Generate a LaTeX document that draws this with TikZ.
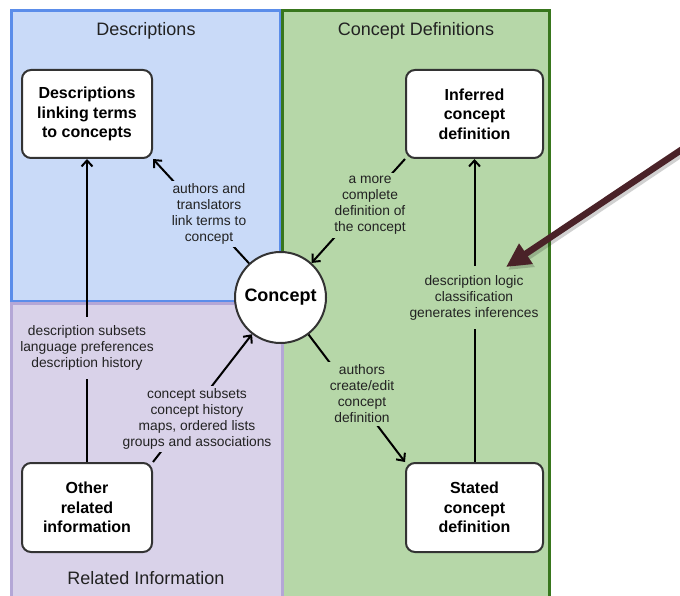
\documentclass[tikz,border=0pt]{standalone}
\usepackage{fontspec}
\setmainfont{Liberation Sans}
\usetikzlibrary{arrows.meta}
\definecolor{descfill}{HTML}{C9DAF8}
\definecolor{descline}{HTML}{5B8DEA}
\definecolor{deffill}{HTML}{B6D7A8}
\definecolor{defline}{HTML}{38761D}
\definecolor{relfill}{HTML}{D9D2E9}
\definecolor{relline}{HTML}{B4A7D6}
\definecolor{pointer}{HTML}{4A2228}
\definecolor{labeltext}{HTML}{222222}
\definecolor{boxline}{HTML}{333333}

\begin{document}
\begin{tikzpicture}[x=1pt,y=-1pt,
  region/.style={line width=3pt},
  title/.style={font=\fontsize{18}{20}\selectfont, text=labeltext},
  infobox/.style={draw=boxline, line width=2pt, fill=white, rounded corners=9pt,
    align=center, font=\fontsize{16}{19.5}\selectfont\bfseries, inner sep=0pt},
  hub/.style={circle, draw=boxline, line width=2pt, fill=white, minimum size=91pt,
    inner sep=0pt, font=\fontsize{18}{20}\selectfont\bfseries},
  flow/.style={line width=2pt, -{Straight Barb[length=6pt,width=11pt]}},
  note/.style={align=center, font=\fontsize{13.8}{16}\selectfont, text=labeltext,
    inner sep=3pt},
  tallnote/.style={note, inner ysep=9pt},
]
\useasboundingbox (0,0) rectangle (680,596);

% background regions
\begin{scope}
  \clip (0,0) rectangle (680,596);
  \fill[white] (0,0) rectangle (680,596);
  \draw[region, draw=descline, fill=descfill] (11,11) rectangle (280,301);
  \draw[region, draw=defline, fill=deffill] (282,11) rectangle (549,620);
  \draw[region, draw=relline, fill=relfill] (11,303) rectangle (282,620);
\end{scope}

% region titles
\node[title] (tdesc) at (146,31) {Descriptions};
\node[title] (tdef) at (416,31) {Concept Definitions};
\node[title] (trel) at (146,578) {Related Information};

% main nodes
\node[infobox, minimum width=130pt, minimum height=88pt] (desc) at (87,114)
  {Descriptions\\linking terms\\to concepts};
\node[infobox, minimum width=137pt, minimum height=88pt] (inf) at (474.5,114)
  {Inferred\\concept\\definition};
\node[infobox, minimum width=130pt, minimum height=89pt] (other) at (87,507.5)
  {Other\\related\\information};
\node[infobox, minimum width=137pt, minimum height=89pt] (stated) at (474.5,507.5)
  {Stated\\concept\\definition};
\node[hub] (concept) at (280.5,297.5) {Concept};

% connectors
\draw[flow] (other) -- (desc);
\draw[flow] (stated) -- (inf);
\draw[flow] (concept) -- (desc.south east);
\draw[flow] (inf.south west) -- (concept);
\draw[flow] (concept) -- (stated.north west);
\draw[flow] (other.north east) -- (concept);

% connector labels
\node[note, fill=descfill] (l1) at (209,214)
  {authors and\\translators\\link terms to\\concept};
\node[note, fill=deffill] (l2) at (370,205.5)
  {a more\\complete\\definition of\\the concept};
\node[note, fill=deffill] (l3) at (362,394)
  {authors\\create/edit\\concept\\definition};
\node[tallnote, fill=deffill] (l4) at (474,297.5)
  {description logic\\classification\\generates inferences};
\node[tallnote, fill=relfill] (l5) at (87,348)
  {description subsets\\language preferences\\description history};
\node[note, fill=relfill] (l6) at (197,419)
  {concept subsets\\concept history\\maps, ordered lists\\groups and associations};

% pointer arrow
\coordinate (ptrstart) at (690,144);
\coordinate (ptrend) at (506,267);
\begin{scope}
  \clip (0,0) rectangle (680,596);
  \draw[line width=6.5pt, black, opacity=0.18, -{Triangle[length=24pt,width=23pt]}]
    ([shift={(2,3)}]ptrstart) -- ([shift={(2,3)}]ptrend);
  \draw[line width=6.5pt, pointer, -{Triangle[length=24pt,width=23pt]}]
    (ptrstart) -- (ptrend);
\end{scope}
\end{tikzpicture}
\end{document}
